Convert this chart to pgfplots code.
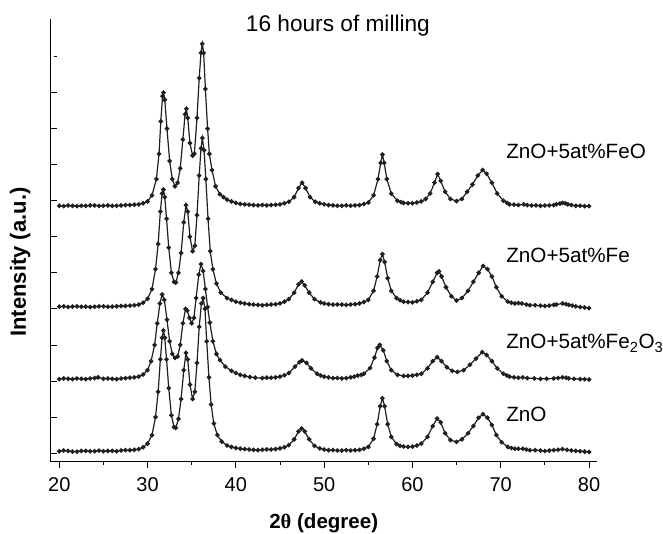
\documentclass[border=0pt]{standalone}
\usepackage{pgfplots}
\pgfplotsset{compat=1.18}
\usepackage{fontspec}
\setmainfont{Liberation Sans}
\newfontfamily\thetafont{Liberation Serif}
\pgfplotsset{xrd/.style={color=black!88, line width=0.9pt, mark=*, mark size=1.25pt, mark options={solid, fill=black!88}}}

\begin{document}
\begin{tikzpicture}
\useasboundingbox (0pt,0pt) rectangle (497.25pt,-399.75pt);
\begin{axis}[
  at={(38.03pt,-346.28pt)}, anchor=south west,
  scale only axis, width=409.5pt, height=332pt,
  xmin=19.03, xmax=80.87, ymin=-0.24, ymax=12.04,
  axis x line=bottom, axis y line=left,
  axis line style={-, line width=0.7pt},
  clip=false,
  xtick={20,30,...,80},
  minor xtick={25,35,...,75},
  ytick={0,1,...,11},
  yticklabels={},
  tick align=outside,
  major tick length=4.5pt,
  minor tick length=2.6pt,
  tick style={line width=0.6pt, black},
  ytick style={xshift=4.5pt, shorten <=2.7pt},
  /pgf/number format/assume math mode=true,
  tick label style={font=\fontsize{15}{18}\selectfont},
  xticklabel style={yshift=-4pt},
  xlabel={\textbf{2{\thetafont θ} (degree)}},
  ylabel={\textbf{Intensity (a.u.)}},
  xlabel style={font=\fontsize{15.4}{18}\selectfont, at={(axis description cs:0.5,-0.138)}, anchor=center},
  ylabel style={font=\fontsize{16.5}{19}\selectfont, at={(axis description cs:-0.056,0.451)}, anchor=center},
]
% ZnO
\addplot[xrd] table {
20 0.05
20.5 0.07
21 0.06
21.5 0.04
22 0.04
22.5 0.06
23 0.06
23.5 0.05
24 0.05
24.5 0.07
25 0.05
25.5 0.06
26 0.06
26.5 0.05
27 0.07
27.5 0.08
28 0.08
28.5 0.09
29 0.11
29.5 0.16
30 0.26
30.5 0.5
30.9 1.0
31.2 1.7
31.45 2.6
31.65 3.2
31.8 3.4
31.95 3.2
32.15 2.6
32.4 1.8
32.7 1.05
33.0 0.72
33.2 0.7
33.5 0.95
33.8 1.5
34.1 2.3
34.35 2.78
34.55 2.6
34.8 1.9
35.1 1.5
35.35 1.7
35.6 2.5
35.85 3.5
36.1 4.15
36.3 4.3
36.5 4.0
36.7 3.1
36.95 2.1
37.2 1.35
37.5 0.82
37.9 0.5
38.4 0.32
39 0.21
39.5 0.17
40 0.14
40.5 0.12
41 0.11
41.5 0.1
42 0.09
42.5 0.08
43 0.09
43.5 0.1
44 0.1
44.5 0.11
45 0.13
45.5 0.16
46 0.22
46.6 0.38
47.1 0.6
47.45 0.68
47.8 0.6
48.3 0.38
48.9 0.2
49.5 0.13
50 0.1
50.5 0.08
51 0.08
51.5 0.07
52 0.07
52.5 0.08
53 0.07
53.5 0.08
54 0.09
54.5 0.12
55 0.17
55.6 0.4
56.0 0.8
56.35 1.3
56.6 1.52
56.85 1.3
57.2 0.8
57.6 0.45
58.2 0.25
58.6 0.2
59 0.18
59.5 0.17
60 0.18
60.5 0.21
61 0.26
61.7 0.45
62.3 0.75
62.8 0.96
63.2 0.85
63.7 0.55
64.3 0.36
65.0 0.31
65.6 0.38
66.3 0.55
66.9 0.75
67.5 0.98
68.0 1.08
68.5 0.98
69.0 0.78
69.5 0.5
70.1 0.3
70.8 0.17
71.2 0.14
71.6 0.12
72 0.12
72.5 0.12
72.9 0.1
73.3 0.08
73.9 0.08
74.5 0.07
75 0.06
75.5 0.07
76 0.08
76.5 0.09
77 0.11
77.5 0.09
78 0.07
78.5 0.06
79 0.05
79.5 0.04
80 0.03
};
% Fe2O3
\addplot[xrd] table {
20 2.05
20.5 2.07
21 2.06
21.5 2.05
22 2.07
22.5 2.06
23 2.05
23.5 2.07
24 2.08
24.4 2.1
25 2.06
25.5 2.07
26 2.06
26.5 2.05
27 2.07
27.5 2.08
28 2.09
28.5 2.1
29 2.12
29.5 2.18
30 2.3
30.4 2.55
30.8 3.0
31.1 3.6
31.4 4.15
31.65 4.4
31.9 4.25
32.2 3.7
32.5 3.1
32.8 2.75
33.1 2.64
33.4 2.68
33.7 3.0
34.0 3.6
34.3 4.0
34.5 3.95
34.75 3.75
35.0 3.6
35.25 3.75
35.5 4.3
35.8 4.95
36.05 5.24
36.3 5.05
36.55 4.55
36.8 4.05
37.05 3.62
37.4 3.1
37.8 2.75
38.2 2.58
38.8 2.4
39.5 2.28
40 2.22
40.5 2.17
41 2.14
41.6 2.11
42.2 2.09
43 2.08
43.5 2.09
44 2.09
44.5 2.1
45 2.12
45.5 2.16
46 2.22
46.7 2.4
47.2 2.52
47.5 2.57
48.0 2.5
48.5 2.35
49.2 2.2
49.6 2.15
50 2.12
50.5 2.1
51 2.08
51.5 2.08
52 2.07
52.5 2.08
53 2.1
53.4 2.12
53.8 2.15
54.2 2.17
54.5 2.2
55.2 2.36
55.7 2.65
56.05 2.92
56.3 3.0
56.7 2.85
57.1 2.55
57.6 2.3
58.3 2.17
59 2.14
59.5 2.14
60 2.15
60.5 2.17
61 2.2
61.7 2.35
62.3 2.55
62.8 2.66
63.3 2.55
63.9 2.38
64.5 2.28
65.1 2.25
65.8 2.3
66.5 2.45
67.2 2.62
67.9 2.8
68.4 2.72
69.0 2.55
69.6 2.35
70.3 2.2
70.7 2.15
71 2.12
71.5 2.1
72 2.09
72.5 2.1
73 2.08
73.8 2.07
74.5 2.06
75.2 2.06
76 2.07
76.5 2.08
77 2.1
77.4 2.09
77.7 2.07
78.3 2.06
79 2.05
79.5 2.05
80 2.04
};
% Fe
\addplot[xrd] table {
20 4.06
20.5 4.07
21 4.05
21.5 4.06
22 4.07
22.5 4.06
23 4.06
23.5 4.05
24 4.06
24.5 4.07
25 4.07
25.5 4.06
26 4.06
26.5 4.07
27 4.08
27.5 4.08
28 4.09
28.5 4.1
29 4.12
29.5 4.17
30 4.28
30.5 4.55
30.9 5.1
31.2 5.8
31.45 6.7
31.65 7.2
31.8 7.31
31.95 7.1
32.15 6.5
32.4 5.7
32.7 5.0
33.0 4.75
33.2 4.73
33.5 5.0
33.8 5.55
34.1 6.4
34.35 6.88
34.55 6.7
34.8 6.0
35.1 5.6
35.35 5.75
35.6 6.6
35.85 7.7
36.05 8.45
36.2 8.74
36.4 8.4
36.6 7.6
36.85 6.5
37.1 5.6
37.4 5.1
37.8 4.7
38.3 4.45
39 4.3
39.5 4.25
40 4.2
40.5 4.17
41 4.15
41.5 4.13
42 4.12
42.5 4.11
43 4.1
43.5 4.11
44 4.12
44.5 4.13
45 4.15
45.5 4.2
46 4.27
46.6 4.45
47.1 4.68
47.45 4.76
47.8 4.65
48.3 4.45
48.9 4.27
49.6 4.18
50 4.15
50.5 4.13
51 4.12
51.5 4.12
52 4.12
52.5 4.11
53 4.12
53.5 4.13
54 4.15
54.5 4.19
55 4.25
55.6 4.5
56.0 4.9
56.35 5.35
56.6 5.52
56.85 5.3
57.2 4.85
57.6 4.5
58.2 4.3
58.6 4.24
59 4.2
59.5 4.19
60 4.18
60.5 4.21
61 4.25
61.7 4.45
62.3 4.75
62.8 5.0
63.0 5.04
63.3 4.9
63.8 4.6
64.4 4.35
65.0 4.23
65.6 4.3
66.3 4.5
66.9 4.75
67.5 5.0
68.0 5.19
68.5 5.1
69.0 4.9
69.5 4.6
70.1 4.35
70.8 4.2
71.2 4.17
71.6 4.15
72 4.16
72.4 4.15
72.9 4.12
73.3 4.1
73.9 4.1
74.5 4.09
75 4.08
75.5 4.09
76 4.11
76.3 4.12
77 4.15
77.4 4.13
77.7 4.11
78.1 4.09
78.5 4.07
79 4.05
79.5 4.04
80 4.02
};
% FeO
\addplot[xrd] table {
20 6.86
20.5 6.85
21 6.87
21.5 6.86
22 6.85
22.5 6.86
23 6.86
23.5 6.87
24 6.87
24.5 6.86
25 6.86
25.5 6.87
26 6.86
26.5 6.86
27 6.87
27.5 6.88
28 6.88
28.5 6.89
29 6.9
29.5 6.93
30 6.98
30.5 7.15
31 7.6
31.3 8.3
31.5 9.2
31.7 9.9
31.8 10.0
31.95 9.8
32.2 9.0
32.5 8.1
32.8 7.6
33.1 7.4
33.4 7.5
33.7 7.9
34.0 8.7
34.25 9.4
34.4 9.55
34.55 9.3
34.8 8.6
35.1 8.25
35.3 8.3
35.6 9.3
35.85 10.4
36.05 11.1
36.2 11.35
36.35 11.1
36.55 10.1
36.8 9.0
37.0 8.3
37.3 7.85
37.7 7.4
38.2 7.18
38.6 7.1
39 7.03
39.5 6.98
40 6.94
40.5 6.91
41 6.9
41.5 6.89
42 6.88
42.5 6.87
43 6.88
43.5 6.87
44 6.88
44.5 6.89
45 6.9
45.5 6.93
46 6.97
46.6 7.1
47.1 7.35
47.5 7.5
47.9 7.35
48.4 7.1
49 6.97
49.5 6.93
50 6.9
50.5 6.88
51 6.87
51.5 6.86
52 6.86
52.5 6.87
53 6.86
53.5 6.87
54 6.88
54.5 6.91
55 6.95
55.6 7.15
56.1 7.6
56.4 8.05
56.6 8.28
56.8 8.05
57.1 7.6
57.6 7.2
58.3 7.0
58.7 6.96
59 6.94
59.5 6.93
60 6.93
60.5 6.95
61 6.98
61.5 7.05
62 7.2
62.5 7.5
62.85 7.74
63.2 7.55
63.7 7.25
64.3 7.05
65 6.99
65.6 7.05
66.2 7.25
66.8 7.45
67.4 7.7
67.95 7.85
68.4 7.75
69 7.5
69.6 7.2
70.3 7.0
70.7 6.94
71 6.9
71.5 6.89
72 6.88
72.6 6.9
73 6.88
73.5 6.87
74 6.87
74.5 6.86
75 6.87
75.5 6.87
76 6.88
76.3 6.9
76.7 6.92
77 6.94
77.3 6.93
77.6 6.9
78 6.88
78.5 6.86
79 6.86
79.5 6.85
80 6.85
};
\node[font=\fontsize{17}{20}\selectfont] at (axis description cs:0.526,0.985) {16 hours of milling};
\node[anchor=base west, font=\fontsize{15.5}{18}\selectfont] at (axis cs:70.1,8.17) {ZnO+5at\%FeO};
\node[anchor=base west, font=\fontsize{15.5}{18}\selectfont] at (axis cs:70.1,5.28) {ZnO+5at\%Fe};
\node[anchor=base west, font=\fontsize{15.5}{18}\selectfont] at (axis cs:70.1,2.9) {ZnO+5at\%Fe$_{\mbox{\fontsize{11}{12}\selectfont 2}}$O$_{\mbox{\fontsize{11}{12}\selectfont 3}}$};
\node[anchor=base west, font=\fontsize{15.5}{18}\selectfont] at (axis cs:70.1,0.88) {ZnO};
\end{axis}
\end{tikzpicture}
\end{document}
